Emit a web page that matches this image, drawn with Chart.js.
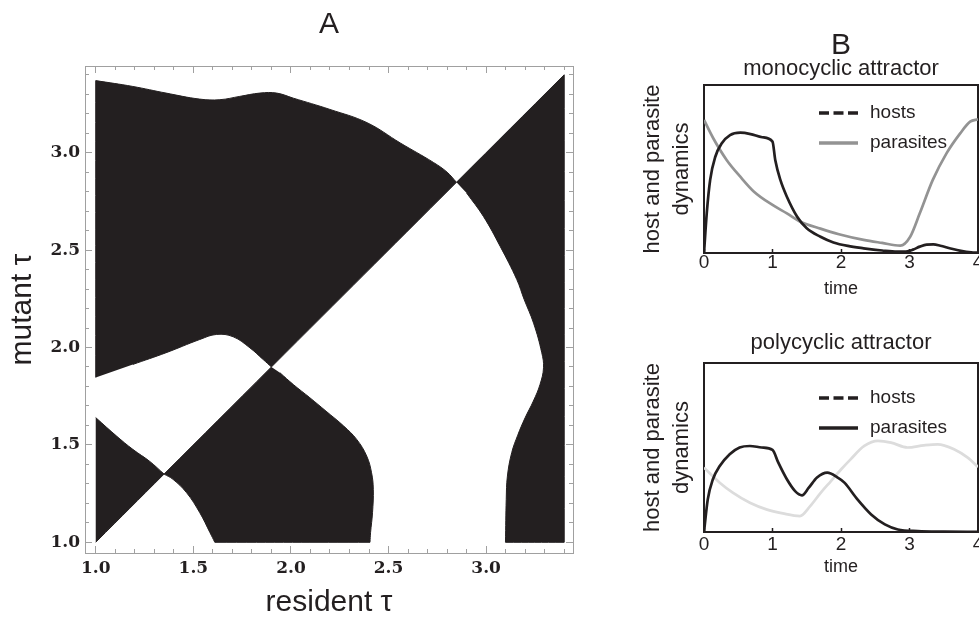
<!DOCTYPE html>
<html>
<head>
<meta charset="utf-8">
<script src="https://cdn.jsdelivr.net/npm/chart.js@4.4.1/dist/chart.umd.min.js"></script>
<style>
  html, body { margin: 0; padding: 0; background: #fff; }
  #wrap { position: relative; width: 979px; height: 623px; overflow: hidden; }
  canvas { position: absolute; }
  #pipChart { left: 0; top: 0; }
  #monoChart { left: 600px; top: 0; }
  #polyChart { left: 600px; top: 310px; }
</style>
</head>
<body>
<div id="wrap">
  <canvas id="pipChart" width="600" height="623"></canvas>
  <canvas id="monoChart" width="400" height="310"></canvas>
  <canvas id="polyChart" width="400" height="313"></canvas>
</div>
<script>
// ---- panel A : pairwise invasibility plot (black = mutant invades) ----
const pipMinorTicks = [1.0, 1.1, 1.2, 1.3, 1.4, 1.5, 1.6, 1.7, 1.8, 1.9, 2.0, 2.1, 2.2, 2.3, 2.4, 2.5, 2.6, 2.7, 2.8, 2.9, 3.0, 3.1, 3.2, 3.3, 3.4];
const pipMajorTicks = [1.0, 1.5, 2.0, 2.5, 3.0];
const pipTickLabels = ['1.0', '1.5', '2.0', '2.5', '3.0'];

const regionUpperLeft = [
  [1.0, 1.846], [1.0, 3.37], [1.19, 3.34], [1.36, 3.306], [1.533, 3.275], [1.636, 3.272],
  [1.738, 3.289], [1.841, 3.306], [1.927, 3.306], [2.012, 3.28], [2.2, 3.222], [2.39, 3.154],
  [2.56, 3.05], [2.73, 2.95], [2.80, 2.90], [2.848, 2.848],
  [1.9, 1.9],
  [1.858, 1.938], [1.79, 1.998], [1.704, 2.055], [1.619, 2.067], [1.533, 2.041],
  [1.36, 1.973], [1.19, 1.913]
];
const regionUpperRight = [
  [2.848, 2.848], [3.4, 3.4], [3.4, 1.0], [3.099, 1.0], [3.103, 1.221], [3.109, 1.34],
  [3.131, 1.46], [3.162, 1.55], [3.2, 1.64], [3.242, 1.725], [3.276, 1.81], [3.294, 1.896],
  [3.285, 1.973], [3.243, 2.125], [3.195, 2.246], [3.157, 2.349], [3.072, 2.519],
  [2.986, 2.673], [2.90, 2.793]
];
const regionMiddle = [
  [1.9, 1.9], [1.35, 1.35], [1.396, 1.323], [1.465, 1.255], [1.533, 1.152], [1.585, 1.05],
  [1.61, 1.0], [2.405, 1.0], [2.408, 1.05], [2.418, 1.152], [2.422, 1.272], [2.413, 1.357],
  [2.388, 1.443], [2.337, 1.528], [2.27, 1.597], [2.18, 1.673], [2.097, 1.742],
  [2.012, 1.81], [1.944, 1.87]
];
const regionLowerLeft = [
  [1.0, 1.0], [1.35, 1.35], [1.277, 1.415], [1.19, 1.477], [1.108, 1.544], [1.0, 1.64]
];

// ---- panel B : host / parasite dynamics over one season ----
const timeTicks = [0, 1, 2, 3, 4];
const timeLabels = ['0', '1', '2', '3', '4'];

const monoHostT = [0, 0.04, 0.09, 0.165, 0.26, 0.38, 0.53, 0.68, 0.85, 1.0, 1.04, 1.115, 1.21, 1.36, 1.5, 1.7, 1.89, 2.1, 2.33, 2.6, 2.82, 2.95, 3.05, 3.15, 3.25, 3.35, 3.45, 3.6, 3.75, 3.9, 4.0];
const monoHostV = [0, 0.236, 0.435, 0.573, 0.653, 0.702, 0.716, 0.708, 0.689, 0.663, 0.554, 0.435, 0.335, 0.216, 0.147, 0.097, 0.063, 0.042, 0.028, 0.015, 0.008, 0.009, 0.02, 0.038, 0.05, 0.051, 0.043, 0.027, 0.013, 0.004, 0.002];
const monoParaT = [0, 0.135, 0.33, 0.53, 0.73, 1.0, 1.21, 1.41, 1.7, 1.97, 2.33, 2.6, 2.865, 3.01, 3.15, 3.34, 3.54, 3.74, 3.885, 4.0];
const monoParaV = [0.792, 0.683, 0.554, 0.454, 0.365, 0.286, 0.236, 0.186, 0.145, 0.112, 0.078, 0.06, 0.044, 0.097, 0.236, 0.435, 0.593, 0.712, 0.782, 0.796];

const polyHostT = [0, 0.055, 0.13, 0.23, 0.375, 0.52, 0.67, 0.84, 1.0, 1.085, 1.21, 1.33, 1.43, 1.53, 1.65, 1.8, 1.95, 2.05, 2.24, 2.44, 2.64, 2.83, 3.12, 3.5, 4.0];
const polyHostV = [0, 0.193, 0.312, 0.39, 0.46, 0.5, 0.509, 0.5, 0.486, 0.41, 0.312, 0.242, 0.217, 0.262, 0.322, 0.351, 0.322, 0.292, 0.193, 0.104, 0.045, 0.015, 0.005, 0.002, 0.001];
const polyParaT = [0, 0.23, 0.42, 0.67, 0.91, 1.15, 1.4, 1.55, 1.7, 1.85, 2.0, 2.14, 2.34, 2.54, 2.73, 2.97, 3.21, 3.41, 3.65, 3.85, 4.0];
const polyParaV = [0.381, 0.292, 0.233, 0.173, 0.134, 0.11, 0.094, 0.153, 0.23, 0.30, 0.37, 0.43, 0.509, 0.539, 0.529, 0.5, 0.513, 0.519, 0.49, 0.44, 0.385];

const legendLabels = ['hosts', 'parasites'];

const ink = '#231f20';
const frameGrey = '#a0a0a0';
const paraGrey = '#939393';
const paraLight = '#dcdcdc';

Chart.defaults.animation = false;
Chart.defaults.color = ink;
Chart.defaults.font.family = '"Liberation Sans", Arial, sans-serif';
Chart.defaults.plugins.legend.display = false;
Chart.defaults.plugins.tooltip.enabled = false;

const toPoints = (xs, ys) => xs.map((x, i) => ({x: x, y: ys[i]}));

const setSize = (size) => (scale) => {
  if (scale.isHorizontal()) scale.height = size; else scale.width = size;
};

// ---------- panel A ----------
const pipMin = 0.945, pipMax = 3.445;
const serifTicks = {family: '"DejaVu Serif", serif', size: 17, weight: 'bold'};

function pipAxis(position, values, tickLen, weight, border, labelled) {
  const axis = {
    type: 'linear',
    position: position,
    weight: weight,
    min: pipMin,
    max: pipMax,
    afterBuildTicks: (s) => { s.ticks = values.map(v => ({value: v})); },
    afterFit: setSize(0),
    grid: {display: true, drawOnChartArea: false, drawTicks: true, tickLength: tickLen, tickColor: frameGrey, tickWidth: 1},
    border: {display: border, color: frameGrey, width: 1},
    ticks: {autoSkip: false, padding: 0, callback: () => ''}
  };
  if (labelled) {
    axis.ticks = {autoSkip: false, font: serifTicks, color: ink, padding: labelled.pad,
      callback: (v, i) => pipTickLabels[i]};
    axis.title = {display: true, text: labelled.title, color: ink,
      font: {size: 30}, padding: labelled.titlePad};
    axis.afterFit = setSize(labelled.size);
  }
  return axis;
}

// points lying on the plot edge or on the diagonal are sharp corners:
// repeating them keeps the smoothed outline straight along those edges
const isCorner = (p) => p[0] === 1.0 || p[0] === 3.4 || p[1] === 1.0 || p[0] === p[1];

function region(points) {
  const data = [];
  points.forEach(p => {
    data.push({x: p[0], y: p[1]});
    if (isCorner(p)) data.push({x: p[0], y: p[1]});
  });
  return {
    data: data,
    fill: 'shape',
    backgroundColor: ink,
    borderColor: ink,
    borderWidth: 1,
    pointRadius: 0,
    tension: 0.4,
    xAxisID: 'x',
    yAxisID: 'y'
  };
}

new Chart(document.getElementById('pipChart'), {
  type: 'line',
  data: {
    datasets: [region(regionUpperLeft), region(regionUpperRight), region(regionMiddle), region(regionLowerLeft)]
  },
  options: {
    responsive: false,
    events: [],
    layout: {padding: {left: 0, right: 27, top: 0, bottom: 0}},
    plugins: {
      title: {display: true, text: 'A', fullSize: false, color: ink,
        font: {size: 30, weight: 'normal'}, padding: {top: 7, bottom: 23}}
    },
    scales: {
      x: pipAxis('bottom', pipMinorTicks, -4, 0, true),
      xMajor: pipAxis('bottom', pipMajorTicks, -7, 1, false,
        {pad: 12.8, size: 70, title: 'resident τ', titlePad: {top: 0, bottom: 2}}),
      y: pipAxis('left', pipMinorTicks, -4, 0, true),
      yMajor: pipAxis('left', pipMajorTicks, -7, 1, false,
        {pad: 12, size: 85, title: 'mutant τ', titlePad: {top: 5, bottom: 0}}),
      xTop: pipAxis('top', pipMinorTicks, -4, 0, true),
      xTopMajor: pipAxis('top', pipMajorTicks, -7, 1, false),
      yRight: pipAxis('right', pipMinorTicks, -4, 0, true),
      yRightMajor: pipAxis('right', pipMajorTicks, -7, 1, false)
    }
  }
});

// ---------- panel B ----------
const insetLegend = {
  id: 'insetLegend',
  afterDraw(chart, args, opts) {
    const {ctx, chartArea} = chart;
    ctx.save();
    opts.labels.forEach((label, i) => {
      const x = chartArea.left + opts.left;
      const y = chartArea.top + opts.top + i * opts.rowGap;
      ctx.beginPath();
      ctx.setLineDash(opts.dashes[i]);
      ctx.strokeStyle = opts.colors[i];
      ctx.lineWidth = 3.5;
      ctx.moveTo(x, y);
      ctx.lineTo(x + opts.sample, y);
      ctx.stroke();
      ctx.setLineDash([]);
      ctx.fillStyle = ink;
      ctx.font = '19px "Liberation Sans", Arial, sans-serif';
      ctx.textBaseline = 'middle';
      ctx.textAlign = 'left';
      ctx.fillText(label, x + opts.sample + 12, y);
    });
    ctx.restore();
  }
};

function frameAxis(position) {
  return {
    type: 'linear', position: position, min: 0,
    max: position === 'top' ? 4 : 1,
    afterFit: setSize(0),
    grid: {display: false},
    ticks: {display: false},
    border: {display: true, color: ink, width: 2}
  };
}

function dynamicsChart(id, series, cfg) {
  return new Chart(document.getElementById(id), {
    type: 'line',
    data: {
      datasets: series.map(s => ({
        data: s.points,
        borderColor: s.color,
        borderWidth: 2.7,
        pointRadius: 0,
        fill: false,
        cubicInterpolationMode: 'monotone'
      }))
    },
    plugins: [insetLegend],
    options: {
      responsive: false,
      events: [],
      layout: {padding: {left: 0, right: 22, top: 0, bottom: 0}},
      plugins: Object.assign({
        insetLegend: {labels: legendLabels, colors: cfg.legendColors, dashes: [[10, 4.5], []],
          left: 115, top: cfg.legendTop, rowGap: 30, sample: 39}
      }, cfg.titles),
      scales: {
        x: {
          type: 'linear', position: 'bottom', min: 0, max: 4,
          afterBuildTicks: (s) => { s.ticks = timeTicks.map(v => ({value: v})); },
          afterFit: setSize(cfg.bottomSize),
          grid: {display: true, drawOnChartArea: false, tickLength: -4, tickColor: ink, tickWidth: 1.5},
          border: {display: true, color: ink, width: 2},
          ticks: {autoSkip: false, maxRotation: 0, font: {size: 19}, color: ink, padding: cfg.tickPad,
            callback: (v, i) => timeLabels[i]},
          title: {display: true, text: 'time', color: ink, font: {size: 18},
            padding: {top: 0, bottom: cfg.timePad}}
        },
        y: {
          type: 'linear', position: 'left', min: 0, max: 1,
          afterFit: setSize(104),
          grid: {display: false},
          ticks: {display: false},
          border: {display: true, color: ink, width: 2},
          title: {display: true, text: ['host and parasite', 'dynamics'], color: ink,
            font: {size: 22, lineHeight: 1.32}, padding: {top: 38.5, bottom: 0}}
        },
        xTop: frameAxis('top'),
        yRight: frameAxis('right')
      }
    }
  });
}

dynamicsChart('monoChart', [
  {points: toPoints(monoHostT, monoHostV), color: ink},
  {points: toPoints(monoParaT, monoParaV), color: paraGrey}
], {
  legendColors: [ink, paraGrey],
  legendTop: 28,
  bottomSize: 57,
  tickPad: 2.1,
  timePad: 10.2,
  titles: {
    title: {display: true, text: 'B', fullSize: false, color: ink,
      font: {size: 30, weight: 'normal', lineHeight: 1}, padding: {top: 31, bottom: 0}},
    subtitle: {display: true, text: 'monocyclic attractor', fullSize: false, color: ink,
      font: {size: 22, weight: 'normal', lineHeight: 0.6}, padding: {top: 1, bottom: 9.8}}
  }
});

dynamicsChart('polyChart', [
  {points: toPoints(polyHostT, polyHostV), color: ink},
  {points: toPoints(polyParaT, polyParaV), color: paraLight}
], {
  legendColors: [ink, ink],
  legendTop: 35,
  bottomSize: 91,
  tickPad: 5.6,
  timePad: 44.7,
  titles: {
    title: {display: true, text: 'polycyclic attractor', fullSize: false, color: ink,
      font: {size: 22, weight: 'normal'}, padding: {top: 19.3, bottom: 7.3}}
  }
});
</script>
</body>
</html>
